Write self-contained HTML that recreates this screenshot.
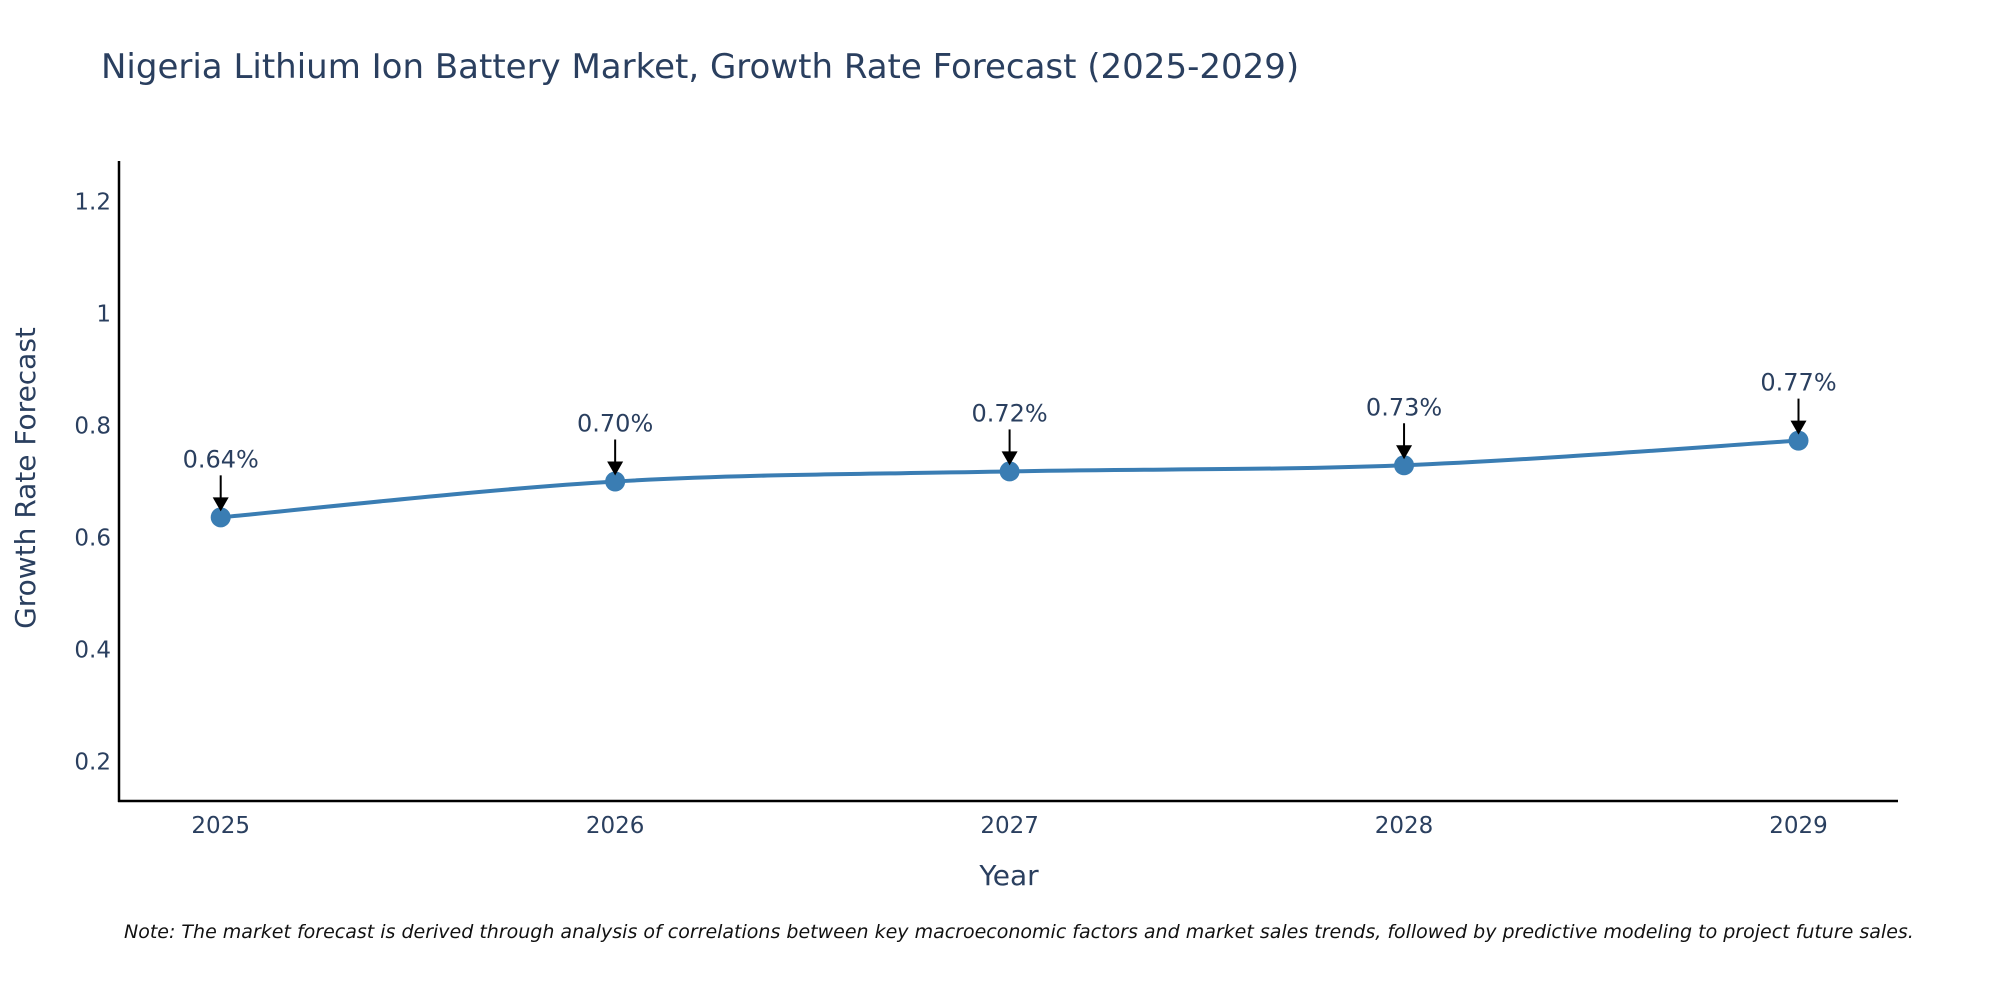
<!DOCTYPE html>
<html><head><meta charset="utf-8"><style>
body{margin:0;background:#fff;}
svg{display:block;font-family:"DejaVu Sans","Liberation Sans",sans-serif;}
</style></head><body>
<svg id="chart" width="2000" height="1000" viewBox="0 0 2000 1000">
<text x="101" y="78" font-size="34" fill="#2a3f5f">Nigeria Lithium Ion Battery Market, Growth Rate Forecast (2025-2029)</text>
<g id="yticks"></g>
<g id="xticks"></g>
<line x1="119" y1="161" x2="119" y2="802" stroke="#000" stroke-width="2.5"/>
<line x1="118" y1="801" x2="1898" y2="801" stroke="#000" stroke-width="2.5"/>
<text x="1009" y="885" font-size="28" fill="#2a3f5f" text-anchor="middle">Year</text>
<text transform="translate(35,478) rotate(-90)" font-size="28" fill="#2a3f5f" text-anchor="middle">Growth Rate Forecast</text>
<g id="plot"></g>
<text x="124" y="938" font-size="19" font-style="italic" fill="#111">Note: The market forecast is derived through analysis of correlations between key macroeconomic factors and market sales trends, followed by predictive modeling to project future sales.</text>
</svg>
<script>
const years = [2025, 2026, 2027, 2028, 2029];
const growth = [0.636, 0.700, 0.718, 0.729, 0.773];
const labels = ["0.64%", "0.70%", "0.72%", "0.73%", "0.77%"];
const yTicks = [0.2, 0.4, 0.6, 0.8, 1, 1.2];
const yTickLabels = ["0.2", "0.4", "0.6", "0.8", "1", "1.2"];

const NS = "http://www.w3.org/2000/svg";
function xs(yr){ return 220.7 + (yr - 2025) * 394.45; }
function ys(v){ return 761.5 - (v - 0.2) * 560; }
function mk(tag, attrs, parent){ const e = document.createElementNS(NS, tag); for (const k in attrs) e.setAttribute(k, attrs[k]); parent.appendChild(e); return e; }

const yt = document.getElementById('yticks');
yTicks.forEach((v, i) => {
  const t = mk('text', {x: 111, y: ys(v) + 8, 'font-size': 23, fill: '#2a3f5f', 'text-anchor': 'end'}, yt);
  
  
  t.textContent = yTickLabels[i];
});
const xt = document.getElementById('xticks');
years.forEach(yr => {
  const t = mk('text', {x: xs(yr), y: 833, 'font-size': 23, fill: '#2a3f5f', 'text-anchor': 'middle'}, xt);
  
  
  t.textContent = String(yr);
});

const plot = document.getElementById('plot');
const pts = years.map((yr, i) => [xs(yr), ys(growth[i])]);
let d = 'M' + pts[0][0] + ',' + pts[0][1];
for (let i = 0; i < pts.length - 1; i++) {
  const p0 = pts[Math.max(0, i - 1)], p1 = pts[i], p2 = pts[i + 1], p3 = pts[Math.min(pts.length - 1, i + 2)];
  const t = 1 / 6;
  const c1 = [p1[0] + (p2[0] - p0[0]) * t, p1[1] + (p2[1] - p0[1]) * t];
  const c2 = [p2[0] - (p3[0] - p1[0]) * t, p2[1] - (p3[1] - p1[1]) * t];
  d += ' C' + c1.join(',') + ' ' + c2.join(',') + ' ' + p2.join(',');
}
const line = mk('path', {d: d, fill: 'none', stroke: '#3a7db3', 'stroke-width': 4}, plot);



pts.forEach((p, i) => {
  const c = mk('circle', {cx: p[0], cy: p[1], r: 10, fill: '#3a7db3'}, plot);
  
  
  const a = mk('line', {x1: p[0], y1: p[1] - 42, x2: p[0], y2: p[1] - 18, stroke: '#000', 'stroke-width': 2}, plot);
  
  
  const h = mk('polygon', {points: (p[0]-8)+','+(p[1]-20)+' '+(p[0]+8)+','+(p[1]-20)+' '+p[0]+','+(p[1]-6), fill: '#000'}, plot);
  
  
  const t = mk('text', {x: p[0], y: p[1] - 50, 'font-size': 24, fill: '#2a3f5f', 'text-anchor': 'middle'}, plot);
  
  
  t.textContent = labels[i];
});
</script>
</body></html>
